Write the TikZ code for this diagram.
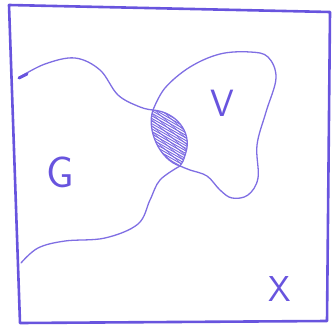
\documentclass[tikz,border=0pt]{standalone}
\usepackage{tikz}
\usetikzlibrary{positioning}
\definecolor{pen}{RGB}{104,84,222}

\begin{document}
\begin{tikzpicture}[
  x=1pt, y=-1pt,
  frame/.style={draw=pen, line width=2.6pt, line join=round, line cap=round},
  curve/.style={draw=pen!85, line width=1.3pt, line cap=round},
  hatch/.style={draw=pen!90, line width=0.9pt},
  letter/.style={text=pen, font=\sffamily\fontsize{44}{44}\selectfont, inner sep=0pt}
]
\useasboundingbox (0,0) rectangle (334,329);
% frame
\draw[frame] (9,5) -- (330,12) -- (327,321) -- (20,323) -- cycle;
% lens ends
\coordinate (lt) at (153,110);
\coordinate (lb) at (180,166);
% hatched intersection
\begin{scope}
\clip (lt) .. controls (176,112) and (192,132) .. (186,152) .. controls (183,162) .. (lb)
      .. controls (160,160) and (146,130) .. (lt);
\foreach \k in {0,...,36} {
  \draw[hatch] (130,80+2.6*\k) -- (200,120+2.6*\k);
}
\foreach \k in {0,...,12} {
  \draw[hatch, line width=0.6pt] (150,100+6*\k) -- (195,140+6*\k);
}
\end{scope}
\draw[curve] (lt) .. controls (146,130) and (160,160) .. (lb);
% region G
\draw[curve] plot[smooth, tension=0.6] coordinates {(20,77) (45,64) (75,58) (100,70) (118,95) (140,107) (lt)};
\draw[line width=3pt, pen, line cap=round] (19,78) -- (27,74);
\draw[curve] (lt) .. controls (176,112) and (192,132) .. (186,152) .. controls (183,162) .. (lb);
\draw[curve] plot[smooth, tension=0.6] coordinates {(lb) (160,180) (150,200) (138,224) (105,238) (65,241) (38,248) (21,263)};
% region V
\draw[curve] plot[smooth, tension=0.6] coordinates {(lt) (165,88) (190,67) (220,54) (250,52) (268,57) (276,78) (266,112) (257,145) (258,178) (248,195) (232,198) (220,190) (207,176) (190,170) (lb)};
% labels
\node[letter] (g) at (60,172) {G};
\node[letter, font=\sffamily\fontsize{38}{38}\selectfont] (v) at (222,103) {V};
\node[letter, font=\sffamily\fontsize{36}{36}\selectfont] (x) at (280,289) {X};
\end{tikzpicture}
\end{document}
